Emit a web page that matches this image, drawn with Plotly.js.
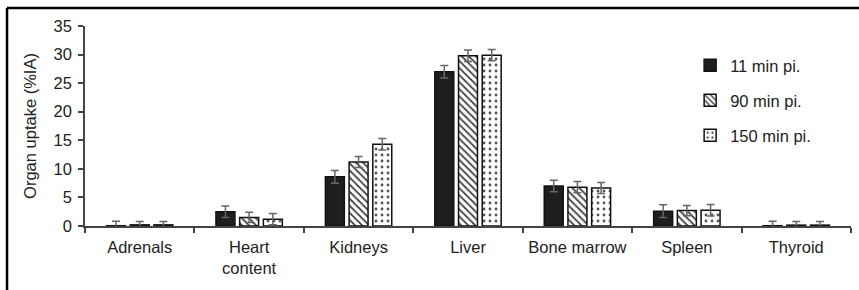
<!DOCTYPE html>
<html>
<head>
<meta charset="utf-8">
<script src="https://cdn.plot.ly/plotly-3.0.1.min.js"></script>
<style>
  html, body { margin: 0; padding: 0; background: #fff; }
  #chart { width: 859px; height: 290px; }
</style>
</head>
<body>
<div id="chart"></div>
<script>
const categories = ["Adrenals", "Heart<br>content", "Kidneys", "Liver", "Bone marrow", "Spleen", "Thyroid"];
const seriesNames = ["11 min pi.", "90 min pi.", "150 min pi."];
const values11 = [0.05, 2.5, 8.6, 27.0, 7.0, 2.6, 0.05];
const values90 = [0.2, 1.5, 11.2, 29.8, 6.8, 2.7, 0.15];
const values150 = [0.2, 1.2, 14.3, 29.9, 6.65, 2.75, 0.15];
const errors11 = [0.8, 1.0, 1.1, 1.1, 1.0, 1.1, 0.8];
const errors90 = [0.6, 0.9, 0.95, 1.0, 1.0, 0.9, 0.65];
const errors150 = [0.6, 1.0, 1.0, 1.0, 0.95, 1.0, 0.65];
const yTickVals = [0, 5, 10, 15, 20, 25, 30, 35];

const fontFam = "Liberation Sans, Arial, sans-serif";
const errStyle = (arr) => ({ type: "data", array: arr, visible: true, color: "#666", thickness: 1.5, width: 4 });

const traces = [
  {
    type: "bar", name: seriesNames[0], x: categories, y: values11, legendgroup: "a",
    marker: { color: "#1e1e1e", line: { color: "#111", width: 1.5 } },
    error_y: errStyle(errors11)
  },
  {
    type: "bar", name: seriesNames[1], x: categories, y: values90, legendgroup: "b",
    marker: { color: "#fff", line: { color: "#111", width: 1.5 },
      pattern: { shape: "\\", fgcolor: "#444", bgcolor: "#fff", size: 5, solidity: 0.35 } },
    error_y: errStyle(errors90)
  },
  {
    type: "bar", name: seriesNames[2], x: categories, y: values150, legendgroup: "c",
    marker: { color: "#fff", line: { color: "#111", width: 1.5 },
      pattern: { shape: ".", fgcolor: "#555", bgcolor: "#fff", size: 6, solidity: 0.18 } },
    error_y: errStyle(errors150)
  }
];

const layout = {
  width: 859, height: 290,
  margin: { l: 85, r: 8, t: 26, b: 64, pad: 0 },
  paper_bgcolor: "#fff", plot_bgcolor: "#fff",
  font: { family: fontFam, size: 16.5, color: "#222" },
  barmode: "group", bargap: 0.35, bargroupgap: 0.2,
  showlegend: true,
  legend: {
    x: 0.79, y: 0.89, xanchor: "left", yanchor: "top",
    bgcolor: "rgba(0,0,0,0)", tracegroupgap: 10.5, traceorder: "grouped",
    font: { family: fontFam, size: 16.5, color: "#222" }
  },
  xaxis: {
    type: "category", showline: true, linecolor: "#444", linewidth: 1.5,
    ticks: "outside", tickson: "boundaries", ticklen: 5, tickcolor: "#444", tickwidth: 1.5,
    showgrid: false, zeroline: false, ticklabelstandoff: 5,
    tickfont: { family: fontFam, size: 16.5, color: "#222" }
  },
  yaxis: {
    range: [0, 35], tickvals: yTickVals, ticktext: yTickVals.map(String),
    showline: true, linecolor: "#444", linewidth: 1.5,
    ticks: "outside", ticklen: 5, tickcolor: "#444", tickwidth: 1.5,
    showgrid: false, zeroline: false, ticklabelstandoff: 3,
    tickfont: { family: fontFam, size: 16.5, color: "#222" },
    title: { text: "Organ uptake (%IA)", font: { family: fontFam, size: 16.5, color: "#222" }, standoff: 13 }
  },
  shapes: [
    { type: "line", xref: "paper", yref: "paper", x0: -0.1018, x1: 1.05, y0: 1.09, y1: 1.09, line: { color: "#000", width: 2.5 } },
    { type: "line", xref: "paper", yref: "paper", x0: -0.1018, x1: -0.1018, y0: 1.09, y1: -0.4, line: { color: "#000", width: 2.5 } }
  ]
};

Plotly.newPlot("chart", traces, layout, { displayModeBar: false, responsive: false });
</script>
</body>
</html>
